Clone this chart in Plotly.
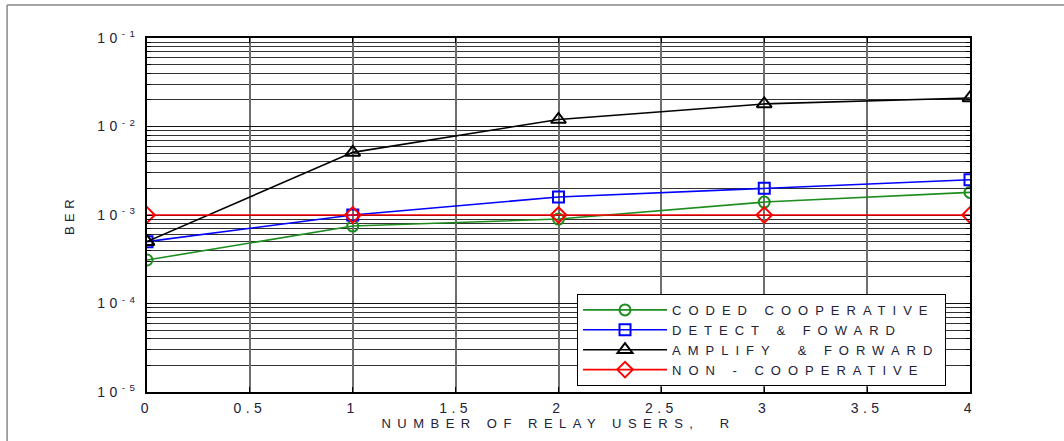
import plotly.graph_objects as go

relay_users = [0, 1, 2, 3, 4]
coded_coop = [3.1e-4, 7.5e-4, 9.0e-4, 1.4e-3, 1.8e-3]
detect_fwd = [5.0e-4, 1.0e-3, 1.6e-3, 2.0e-3, 2.5e-3]
amplify_fwd = [5.0e-4, 5.1e-3, 1.2e-2, 1.8e-2, 2.1e-2]
non_coop = [1.0e-3, 1.0e-3, 1.0e-3, 1.0e-3, 1.0e-3]

series_names = ["CODED COOPERATIVE", "DETECT &amp; FOWARD", "AMPLIFY  &amp; FORWARD", "NON - COOPERATIVE"]
x_ticks = [0, 0.5, 1, 1.5, 2, 2.5, 3, 3.5, 4]
x_ticklabels = ["0", "0.5", "1", "1.5", "2", "2.5", "3", "3.5", "4"]
y_ticks = [1e-5, 1e-4, 1e-3, 1e-2, 1e-1]
y_ticklabels = ["10<sup>-5</sup>", "10<sup>-4</sup>", "10<sup>-3</sup>", "10<sup>-2</sup>", "10<sup>-1</sup>"]
minor_mantissas = [2, 3, 4, 5, 6, 7, 8, 9]
y_minor = [m * d for d in y_ticks[:-1] for m in minor_mantissas]

font_family = "Liberation Sans, Arial, sans-serif"
txt_color = "#22223a"

fig = go.Figure()
styles = [
    (coded_coop, "#1e8c1e", "circle-open", 11),
    (detect_fwd, "#0000ff", "square-open", 11),
    (amplify_fwd, "#000000", "triangle-up-open", 13),
    (non_coop, "#ff0000", "diamond-open", 12),
]
for name, (vals, col, sym, sz) in zip(series_names, styles):
    fig.add_trace(go.Scatter(
        x=relay_users, y=vals, name=name, mode="lines+markers",
        line=dict(color=col, width=1.6),
        marker=dict(symbol=sym, size=sz, color=col, line=dict(color=col, width=2)),
    ))

fig.update_layout(
    width=1064, height=441,
    margin=dict(l=147, r=94, t=38, b=49),
    paper_bgcolor="white", plot_bgcolor="white",
    font=dict(family=font_family, size=13, color=txt_color),
    showlegend=True,
    legend=dict(
        x=0.5225, y=0.277, xanchor="left", yanchor="top",
        bgcolor="white", bordercolor="black", borderwidth=1,
        font=dict(family=font_family, size=13, color=txt_color),
        tracegroupgap=0, itemwidth=84,
    ),
    xaxis=dict(
        range=[0, 4], tickvals=x_ticks, ticktext=x_ticklabels,
        showgrid=True, gridcolor="#6e6e6e", gridwidth=1.6,
        showline=True, linecolor="black", linewidth=1.5, mirror="ticks",
        ticks="inside", ticklen=5, tickcolor="black", zeroline=False,
        tickfont=dict(size=14), ticklabelstandoff=2,
        title=dict(text="NUMBER OF RELAY USERS,  R", font=dict(size=13), standoff=2),
    ),
    yaxis=dict(
        type="log", range=[-5, -1], tickvals=y_ticks, ticktext=y_ticklabels,
        showgrid=True, gridcolor="#111111", gridwidth=1,
        showline=True, linecolor="black", linewidth=1.5, mirror="ticks",
        ticks="inside", ticklen=5, tickcolor="black", zeroline=False,
        tickfont=dict(size=14), ticklabelstandoff=3,
        minor=dict(tickvals=y_minor, showgrid=True, gridcolor="#333333", gridwidth=1,
                   ticks="inside", ticklen=4, tickcolor="black"),
        title=dict(text="BER", font=dict(size=13), standoff=20),
    ),
)

# outer frame (page border of the original figure)
fig.add_shape(type="line", xref="paper", yref="paper", x0=-0.17, x1=1.2, y0=1.093, y1=1.093,
              line=dict(color="#888888", width=1.5))
fig.add_shape(type="line", xref="paper", yref="paper", x0=-0.17, x1=-0.17, y0=-0.2, y1=1.093,
              line=dict(color="#888888", width=1.5))

# wide, letter-spaced lettering like the original raster; re-layout with an
# equivalent font string so that text is re-measured with the spacing applied
post = """
var s = document.createElement('style');
s.textContent = 'body{margin:0;padding:0;overflow:hidden} text{letter-spacing:4.5px}'
  + ' .legendtext{letter-spacing:7px} .xtitle{letter-spacing:6.5px}';
document.head.appendChild(s);
var gd = document.getElementById('{plot_id}');
Plotly.relayout(gd, {'font.family': 'Liberation Sans, Arial', 'legend.font.family': 'Liberation Sans, Arial'});
"""

fig.write_html("out.html", post_script=post, config={"displayModeBar": False})
